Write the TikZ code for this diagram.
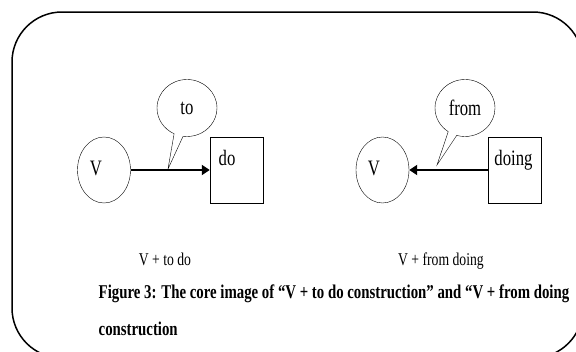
\documentclass[tikz,border=0pt]{standalone}
\usepackage{fontspec}
\setmainfont{Liberation Serif}[FakeStretch=0.76]
\usetikzlibrary{arrows.meta,shapes.geometric,shapes.callouts}

\tikzset{
  vcirc/.style={draw, ellipse, minimum width=53pt, minimum height=66pt, inner sep=0pt},
  objbox/.style={draw, rectangle, minimum width=53pt, minimum height=66pt, inner sep=0pt},
  bubble/.style={draw, ellipse callout, minimum width=60pt, minimum height=57pt, inner sep=0pt, callout pointer arc=18},
  link/.style={line width=1.8pt, -{Triangle[length=8pt,width=10pt]}},
  word/.style={inner sep=0pt, anchor=base},
  captext/.style={inner sep=0pt, anchor=base west, font=\bfseries\fontsize{19.5}{22}\selectfont},
}

\begin{document}
\begin{tikzpicture}[x=1pt, y=-1pt, font=\fontsize{22}{24}\selectfont]
         \useasboundingbox (0,0) rectangle (576,351);
         \draw[line width=1.5pt, rounded corners=50pt] (12,12) rectangle (583,358);

         % V + to do
         \node (vto) at (104,170) [vcirc]{};
         \node (do) at (236.5,170) [objbox]{};
         \node (vtotext) at (96,175) [word]{V};
         \node (dotext) at (227,165.5) [word]{do};
         \draw[link] (vto) -- (do);
         \node (to) at (187,108) [bubble, callout absolute pointer={(168,169)}]{to};

         % V + from doing
         \node (vfrom) at (382.5,170) [vcirc]{};
         \node (doing) at (514.5,170) [objbox]{};
         \node (vfromtext) at (374,175) [word]{V};
         \node (doingtext) at (513.5,165.5) [word]{doing};
         \draw[link] (doing) -- (vfrom);
         \node (from) at (465,108) [bubble, callout absolute pointer={(437,165)}]{from};

         % labels
         \node (lblto) at (165,265) [word, font=\fontsize{18}{20}\selectfont]{V + to do};
         \node (lblfrom) at (441,265) [word, font=\fontsize{18}{20}\selectfont]{V + from doing};
         \node (cap1) at (98.5,298) [captext]{Figure 3: The core image of “V + to do construction” and “V + from doing};
         \node (cap2) at (98.5,335) [captext]{construction};
\end{tikzpicture}
\end{document}
